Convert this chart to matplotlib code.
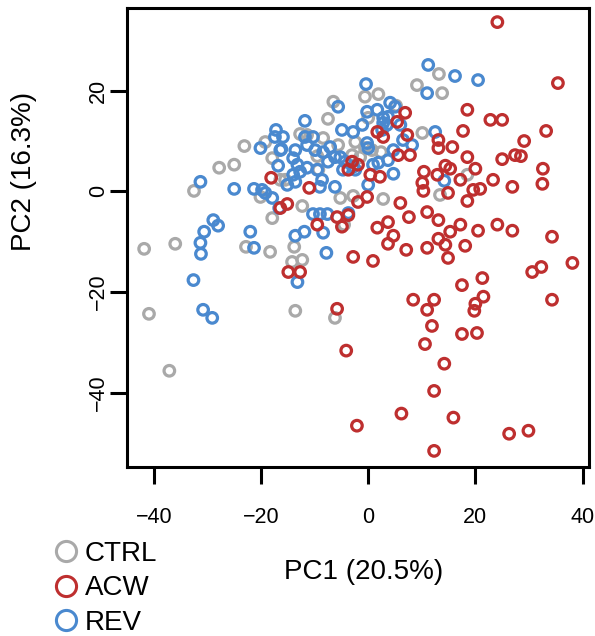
import matplotlib
matplotlib.use("Agg")
import matplotlib.pyplot as plt
from matplotlib.lines import Line2D

plt.rcParams['font.family'] = ['Liberation Sans', 'DejaVu Sans']

# PCA scores (PC1, PC2) per group
ctrl_pc1 = [-23.1, -19.2, -17.9, -25.0, -27.8, -32.5, -20.1, -17.9, -41.8, -36.0,
            -22.8, -18.3, -40.9, -37.1, -16.4, -9.3, -5.2, -2.8, 2.8, -12.3,
            -4.5, -13.8, -14.2, -12.3, -13.6, -6.2, 9.1, 13.2, 13.8, -0.6,
            1.9, -6.5, -7.5, 5.2, 10.1, -12.7, -11.4, -8.4, -2.4, 0.0,
            2.4, -5.6, -9.5, -1.5, -0.6, -3.0, 0.7, 13.4, -15.5, 18.5]
ctrl_pc2 = [9.0, 9.8, 6.6, 5.3, 4.7, 0.1, -1.1, -5.3, -11.4, -10.4,
            -11.0, -12.0, -24.3, -35.6, 2.3, 4.3, -1.3, -0.9, -1.5, -2.9,
            -6.6, -11.0, -14.0, -13.6, -23.7, -25.1, 21.1, 23.3, 19.5, 18.8,
            19.3, 17.8, 14.4, 17.0, 11.6, 11.4, 11.2, 10.6, 9.8, 14.6,
            7.8, 9.2, 7.0, 6.8, 8.6, 7.2, 8.2, -0.7, 2.3, 3.3]

acw_pc1 = [24.1, 35.4, 18.5, 22.8, 25.0, 17.7, 33.2, 29.1, 13.1, 15.7,
           18.5, 25.0, 27.4, 28.5, 32.6, 14.4, 15.3, 20.0, 13.1, 17.2,
           23.3, 26.9, 32.5, 19.6, 20.9, 14.9, 18.5, 13.1, 17.2, 24.1,
           20.5, 26.9, 15.3, 13.1, 14.4, 18.1, 34.3, 14.9, 38.1, 30.6,
           32.3, 21.3, 17.5, 21.5, 20.0, 19.8, 12.3, 34.3, 11.9, 17.5,
           20.3, 10.6, -4.1, 14.2, 12.3, 15.9, 26.3, 29.9, 12.3, 6.2,
           -2.1, 10.4, 10.1, 10.3, 12.9, 11.0, 6.0, 7.6, 3.7, 1.7,
           4.7, 3.7, 7.1, 11.0, -2.8, 0.9, -0.2, -1.9, -5.8, -3.7,
           -4.9, -9.5, -15.1, -16.4, -11.0, 0.4, 2.2, -12.7, -14.9, -5.8,
           8.4, 11.0, -18.1, 6.9, 1.7, 2.8, 5.4, 7.3, 5.6, 7.8,
           -3.0, -1.9, -3.7]
acw_pc2 = [33.6, 21.5, 16.2, 14.2, 14.2, 12.0, 12.0, 10.0, 10.2, 8.8,
           6.8, 6.4, 7.2, 7.0, 4.5, 5.1, 4.5, 4.5, 8.6, 2.3,
           2.3, 0.9, 1.5, 0.3, 0.5, -0.3, -1.9, -5.7, -6.6, -6.6,
           -7.8, -7.8, -8.0, -9.4, -10.6, -10.8, -9.0, -13.2, -14.2, -16.0,
           -15.0, -17.2, -18.6, -20.9, -22.3, -23.7, -21.5, -21.5, -26.7, -28.3,
           -28.1, -30.3, -31.6, -34.2, -39.6, -44.9, -48.1, -47.5, -51.5, -44.1,
           -46.5, 3.9, 1.7, 0.1, 3.3, -4.1, -2.3, -5.1, -6.1, -7.2,
           -8.8, -10.4, -11.6, -11.2, -13.0, -13.8, -1.1, -2.1, -5.1, -4.7,
           -7.0, -6.6, -2.5, -3.3, 0.7, 3.3, 2.9, -16.0, -16.0, -23.3,
           -21.5, -23.5, 2.7, 15.6, 11.8, 10.8, 13.8, 11.2, 7.2, 7.2,
           5.9, 5.3, 4.3]

rev_pc1 = [-17.2, -17.4, -20.1, -16.2, -16.8, -31.3, -25.0, -21.3, -19.8, -17.9,
           -16.6, -28.9, -28.0, -30.6, -31.3, -31.2, -22.0, -21.3, -32.6, -30.8,
           -29.1, -14.0, -12.7, -6.2, -4.7, -2.4, 0.0, 4.7, -15.1, -13.6,
           -10.3, -9.0, -7.6, -3.7, -13.6, -11.9, -8.4, -7.8, -13.2, 14.2,
           11.2, 11.0, -0.4, -5.6, -11.8, -4.9, -15.9, -16.4, -11.8, -10.3,
           -2.8, -0.2, 1.7, 4.1, 6.0, 0.0, -0.2, 4.7, 6.5, 12.5,
           -13.6, -8.4, -7.1, -5.2, -4.3, 2.8, 3.5, 16.2, 20.5, 5.0,
           2.8, 3.7, 2.6, -1.1, 8.2, 3.7, 1.9, 0.9, -2.8, -11.4,
           -9.9, -6.2, -14.0, -13.2, -11.4, -9.5, -7.5, -8.6, -9.0, -19.2]
rev_pc2 = [12.2, 10.8, 8.6, 8.4, 5.1, 1.9, 0.5, 0.5, 0.3, -1.3,
           -3.3, -5.7, -6.8, -8.0, -10.2, -12.4, -8.0, -11.2, -17.6, -23.5,
           -25.1, 3.3, 3.9, 0.9, 4.3, 4.3, 1.3, 3.5, 1.3, 1.9,
           -4.5, -4.5, -4.5, -4.3, -8.8, -8.0, -8.2, -12.2, -18.0, 2.1,
           25.1, 19.5, 21.3, 16.8, 14.0, 12.2, 10.8, 8.2, 10.8, 10.8,
           11.8, 15.8, 16.2, 17.6, 13.2, 8.6, 9.6, 8.2, 10.2, 11.8,
           8.2, 7.8, 8.8, 6.8, 5.9, 13.6, 13.2, 22.9, 22.1, 16.8,
           14.6, 14.8, 12.2, 13.2, 9.2, 6.2, 5.7, 5.3, 4.9, 9.2,
           8.2, 6.8, 6.6, 5.3, 4.7, 4.3, 5.9, 2.3, 0.9, -0.3]

groups = ["CTRL", "ACW", "REV"]
colors = {"CTRL": "#A9A9A9", "ACW": "#BE2F2F", "REV": "#4A89CF"}

W, H = 595, 636
fig = plt.figure(figsize=(W / 100, H / 100), dpi=100)
ax = fig.add_axes([127 / W, 1 - 467 / H, (589 - 127) / W, (467 - 8) / H])

ms = 58
lw = 2.3
ax.scatter(ctrl_pc1, ctrl_pc2, s=ms, facecolors="none", edgecolors=colors["CTRL"], linewidths=lw, zorder=2)
ax.scatter(rev_pc1, rev_pc2, s=ms, facecolors="none", edgecolors=colors["REV"], linewidths=lw, zorder=3)
ax.scatter(acw_pc1, acw_pc2, s=ms, facecolors="none", edgecolors=colors["ACW"], linewidths=lw, zorder=4)

ax.set_xlim(-45.0, 41.2)
ax.set_ylim(-54.7, 36.4)
ax.set_xticks([-40, -20, 0, 20, 40])
ax.set_yticks([-40, -20, 0, 20])
ax.set_xticklabels(["\u221240", "\u221220", "0", "20", "40"])
ax.set_yticklabels(["\u221240", "\u221220", "0", "20"], rotation=90, va="center")

for sp in ax.spines.values():
    sp.set_linewidth(2.2)
ax.tick_params(axis="both", length=12, width=2.2, labelsize=15.5)
ax.tick_params(axis="x", pad=17)
ax.tick_params(axis="y", pad=1)

ax.set_xlabel("PC1 (20.5%)", fontsize=20)
ax.set_ylabel("PC2 (16.3%)", fontsize=20)
ax.xaxis.set_label_coords((364 - 127) / 462, (467 - 572) / 459)
ax.yaxis.set_label_coords((24 - 127) / 462, (467 - 171) / 459)
ax.xaxis.label.set_va("center")
ax.yaxis.label.set_va("center")

handles = [Line2D([], [], linestyle="none", marker="o", markersize=14.5,
                  markerfacecolor="none", markeredgecolor=colors[g], markeredgewidth=2.2)
           for g in groups]
fig.legend(handles, groups, loc="upper left", bbox_to_anchor=(35 / W, 1 - 527 / H),
           frameon=False, fontsize=20, handletextpad=0.1, labelspacing=0.3,
           handlelength=1.2, borderpad=0)

fig.savefig("out.png", dpi=100)
